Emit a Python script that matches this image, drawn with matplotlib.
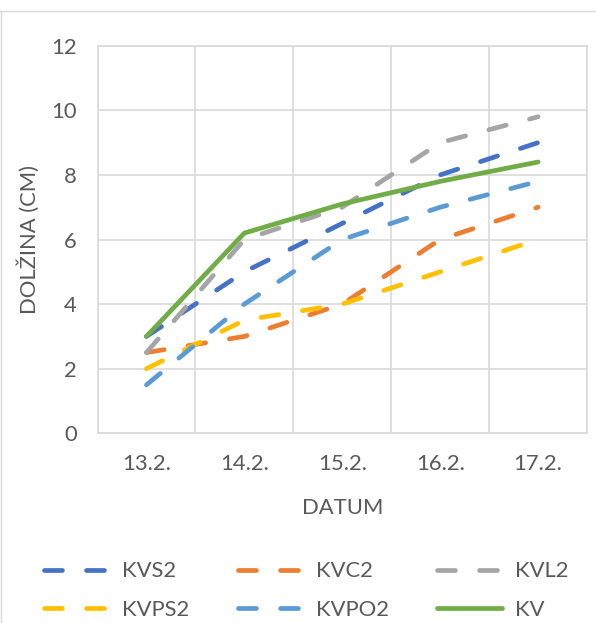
import matplotlib.pyplot as plt
import numpy as np
from matplotlib.lines import Line2D

plt.rcParams['font.family'] = ['Lato', 'DejaVu Sans']

# plant length per date
dates = ['13.2.', '14.2.', '15.2.', '16.2.', '17.2.']
kvs2 = [3, 5, 6.5, 8, 9]
kvc2 = [2.5, 3, 4, 6, 7]
kvl2 = [2.5, 6, 7, 9, 9.8]
kvps2 = [2, 3.5, 4, 5, 6]
kvpo2 = [1.5, 4, 6, 7, 7.8]
kv = [3, 6.2, 7.1, 7.8, 8.4]

names = ['KVS2', 'KVC2', 'KVL2', 'KVPS2', 'KVPO2', 'KV']
series = [kvs2, kvc2, kvl2, kvps2, kvpo2, kv]
colors = ['#4472C4', '#ED7D31', '#A5A5A5', '#FFC000', '#5B9BD5', '#70AD47']
text_c = '#595959'
grid_c = '#D9D9D9'
fs = 15.8

fig = plt.figure(figsize=(5.96, 6.23), dpi=100)
ax = fig.add_axes([0.1636, 0.3045, 0.8214, 0.6221])

x = np.arange(len(dates))
handles = []
for name, vals, c in zip(names, series, colors):
    if name == 'KV':
        ln, = ax.plot(x, vals, color=c, lw=3.4, solid_capstyle='round',
                      label=name, zorder=3)
    else:
        ln, = ax.plot(x, vals, color=c, lw=3.4, linestyle=(0, (3.8, 5.1)),
                      dash_capstyle='round', label=name, zorder=2)
    handles.append(ln)

ax.set_xlim(-0.5, 4.5)
ax.set_ylim(0, 12)
ax.set_yticks(np.arange(0, 13, 2))
ax.set_xticks(x)
ax.set_xticklabels(dates)
ax.set_xticks(np.arange(-0.5, 5, 1), minor=True)
ax.grid(axis='y', which='major', color=grid_c, lw=1.2)
ax.grid(axis='x', which='minor', color=grid_c, lw=1.2)
ax.set_axisbelow(True)
for s in ax.spines.values():
    s.set_color(grid_c)
    s.set_linewidth(1.2)
ax.tick_params(which='both', length=0, labelsize=fs, colors=text_c)
ax.tick_params(axis='y', pad=15)
ax.tick_params(axis='x', pad=15)

ax.set_xlabel('DATUM', fontsize=fs, color=text_c, labelpad=17)
ax.set_ylabel('DOLŽINA (CM)', fontsize=fs, color=text_c, labelpad=8)

# legend filled column by column, so reorder to read row-wise
order = [0, 3, 1, 4, 2, 5]
fig.legend(handles=[handles[i] for i in order],
           labels=[names[i] for i in order], ncol=3, loc='center',
           bbox_to_anchor=(0.514, 0.0522), frameon=False, fontsize=fs,
           labelcolor=text_c, handlelength=2.95, handletextpad=0.6,
           columnspacing=2.2, labelspacing=0.83)

# outer chart border
fig.add_artist(Line2D([0, 1], [1 - 11 / 623] * 2, color=grid_c, lw=1.0))
fig.add_artist(Line2D([0.8 / 596] * 2, [0, 1 - 11 / 623], color=grid_c, lw=1.0))

fig.savefig('out.png', dpi=100)
